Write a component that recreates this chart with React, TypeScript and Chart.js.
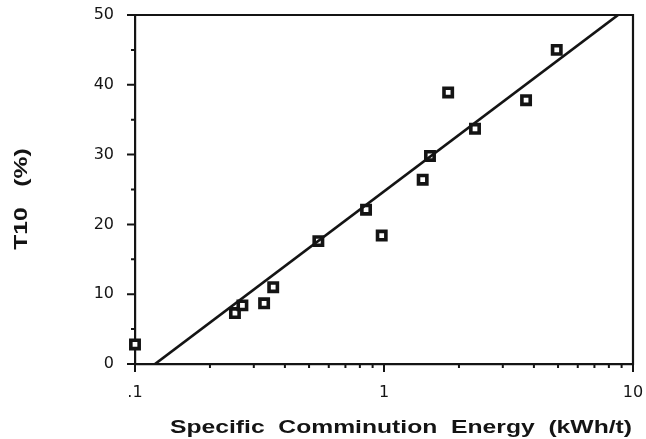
import React, { useEffect, useRef } from "react";
import { Chart, registerables } from "chart.js";

Chart.register(...registerables);

// Measured data (Specific comminution energy in kWh/t vs T10 in %)
const energy = [0.1, 0.252, 0.27, 0.33, 0.359, 0.545, 0.847, 0.979, 1.43, 1.53, 1.81, 2.32, 3.72, 4.94];
const t10 = [2.8, 7.3, 8.4, 8.7, 11.0, 17.6, 22.1, 18.4, 26.4, 29.8, 38.9, 33.7, 37.8, 45.0];

// Fitted line end points
const fitEnergy = [0.1203, 8.71];
const fitT10 = [0, 50];

// Axis ticks
const yMinorTicks = [0, 5, 10, 15, 20, 25, 30, 35, 40, 45, 50];
const xTickValues = [0.1, 0.2, 0.3, 0.4, 0.5, 0.6, 0.7, 0.8, 0.9, 1, 2, 3, 4, 5, 6, 7, 8, 9, 10];
const xMajorValues = [0.1, 1, 10];
const xMajorLabels = [".1", "1", "10"];

const xTitle = "Specific  Comminution  Energy  (kWh/t)";
const yTitle = "T10   (%)";

const INK = "#141414";

const near = (a: number, b: number) => Math.abs(a - b) < 1e-6 * Math.max(1, Math.abs(b));

const decorPlugin = {
  id: "decor",
  afterDraw(chart: any) {
    const { ctx, chartArea: a, scales } = chart;
    const x = scales.x;
    const y = scales.y;
    ctx.save();
    ctx.strokeStyle = INK;
    ctx.lineWidth = 2.2;
    ctx.lineCap = "butt";
    // frame (top and right)
    ctx.beginPath();
    ctx.moveTo(a.left - 1, a.top);
    ctx.lineTo(a.right, a.top);
    ctx.lineTo(a.right, a.bottom + 1);
    ctx.stroke();
    // y ticks
    ctx.lineWidth = 2;
    ctx.beginPath();
    yMinorTicks.forEach((v) => {
      const py = y.getPixelForValue(v);
      const len = v % 10 === 0 ? 8 : 4;
      ctx.moveTo(a.left, py);
      ctx.lineTo(a.left - len, py);
    });
    // x ticks
    xTickValues.forEach((v) => {
      const px = x.getPixelForValue(v);
      const major = xMajorValues.some((m) => near(m, v));
      const len = major ? 8 : 4;
      ctx.moveTo(px, a.bottom);
      ctx.lineTo(px, a.bottom + len);
    });
    ctx.stroke();

    // titles (stretched bold sans, like the original)
    ctx.fillStyle = INK;
    ctx.font = "bold 19px 'Liberation Sans', Arial, sans-serif";
    ctx.textBaseline = "alphabetic";
    ctx.textAlign = "center";
    const titleLeft = a.left + 35;
    const titleRight = a.right - 1;
    const sx = (titleRight - titleLeft) / ctx.measureText(xTitle).width;
    ctx.save();
    ctx.translate((titleLeft + titleRight) / 2, 433);
    ctx.scale(sx, 1);
    ctx.fillText(xTitle, 0, 0);
    ctx.restore();

    ctx.save();
    ctx.translate(26.5, 199);
    ctx.rotate(-Math.PI / 2);
    ctx.scale(sx, 1);
    ctx.fillText(yTitle, 0, 0);
    ctx.restore();

    ctx.restore();
  },
};

export default function App() {
  const ref = useRef<HTMLCanvasElement | null>(null);

  useEffect(() => {
    document.body.style.margin = "0";
    const canvas = ref.current;
    if (!canvas) return;
    const chart = new Chart(canvas, {
      type: "scatter",
      data: {
        datasets: [
          {
            type: "line",
            label: "fit",
            data: fitEnergy.map((e, i) => ({ x: e, y: fitT10[i] })),
            borderColor: INK,
            borderWidth: 2.7,
            pointRadius: 0,
            showLine: true,
            fill: false,
            tension: 0,
          } as any,
          {
            type: "scatter",
            label: "T10",
            data: energy.map((e, i) => ({ x: e, y: t10[i] })),
            pointStyle: "rect",
            pointRadius: 5.9,
            borderWidth: 3.6,
            borderColor: INK,
            backgroundColor: "#ffffff",
            clip: false,
          } as any,
        ],
      },
      options: {
        responsive: false,
        animation: false,
        layout: { padding: { top: 15, right: 13, left: 0, bottom: 0 } },
        plugins: {
          legend: { display: false },
          tooltip: { enabled: false },
        },
        scales: {
          x: {
            type: "logarithmic",
            min: 0.1,
            max: 10,
            grid: { display: true, drawOnChartArea: false, drawTicks: false },
            border: { display: true, color: INK, width: 2.2 },
            ticks: {
              autoSkip: false,
              maxRotation: 0,
              minRotation: 0,
              padding: 19,
              color: INK,
              font: { family: "'DejaVu Sans', sans-serif", size: 16 },
              callback: (value: any) => {
                const v = Number(value);
                const idx = xMajorValues.findIndex((m) => near(m, v));
                return idx >= 0 ? xMajorLabels[idx] : "";
              },
            },
            afterFit: (scale: any) => {
              scale.height = 75;
              scale.paddingLeft = 0;
              scale.paddingRight = 0;
            },
          },
          y: {
            type: "linear",
            min: 0,
            max: 50,
            grid: { display: true, drawOnChartArea: false, drawTicks: false },
            border: { display: true, color: INK, width: 2.2 },
            ticks: {
              stepSize: 10,
              padding: 21,
              color: INK,
              font: { family: "'DejaVu Sans', sans-serif", size: 16 },
            },
            afterFit: (scale: any) => {
              scale.width = 135;
              scale.paddingTop = 0;
              scale.paddingBottom = 0;
            },
          },
        },
      },
      plugins: [decorPlugin],
    });
    return () => chart.destroy();
  }, []);

  return (
    <div style={{ width: 646, height: 439 }}>
      <canvas ref={ref} width={646} height={439} style={{ display: "block" }} />
    </div>
  );
}
